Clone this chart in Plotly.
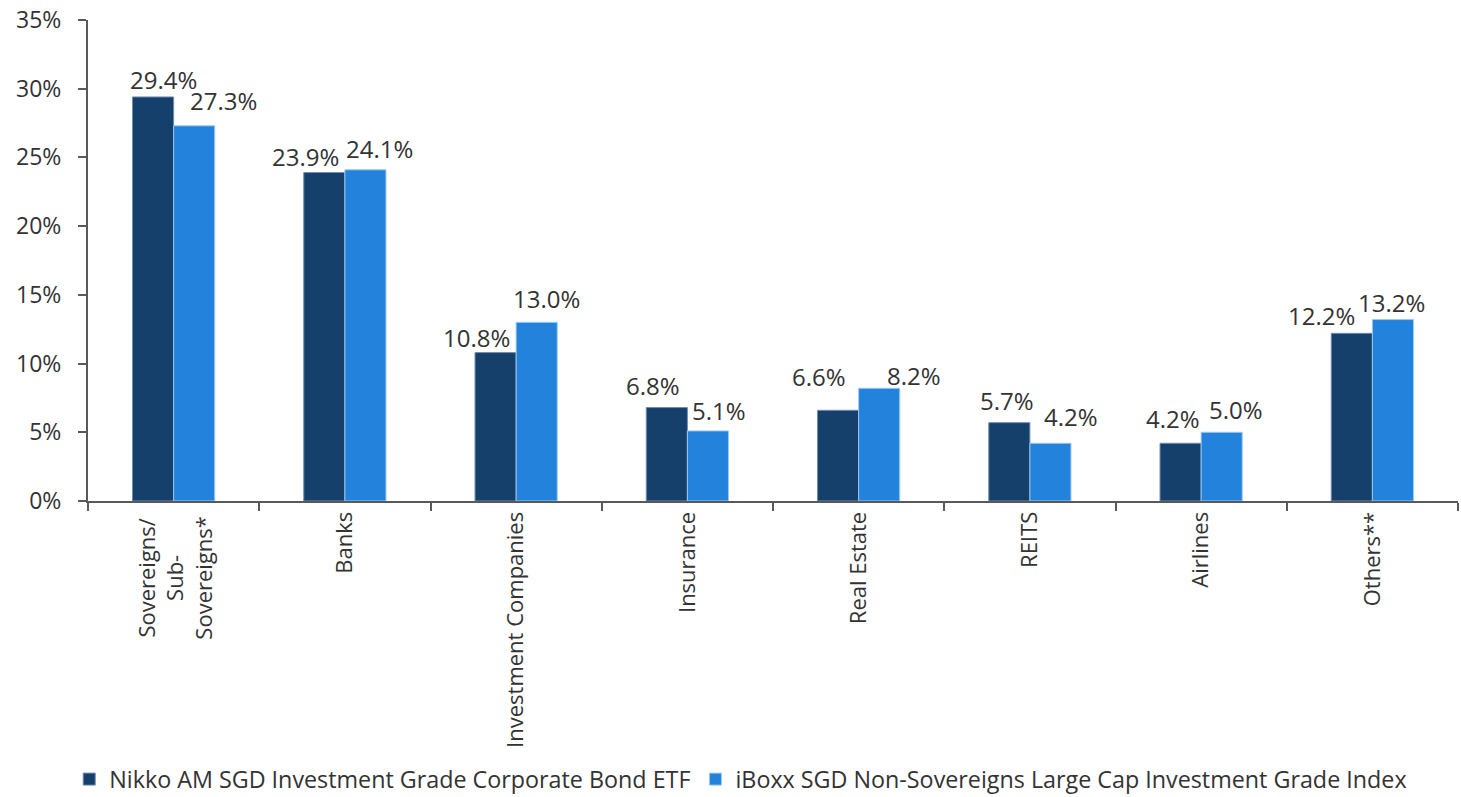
import plotly.graph_objects as go

# Sector allocation data
categories = [
    "Sovereigns/<br>Sub-<br>Sovereigns*",
    "Banks",
    "Investment Companies",
    "Insurance",
    "Real Estate",
    "REITS",
    "Airlines",
    "Others**",
]
fund_name = "Nikko AM SGD Investment Grade Corporate Bond ETF"
index_name = "iBoxx SGD Non-Sovereigns Large Cap Investment Grade Index"
fund_values = [29.4, 23.9, 10.8, 6.8, 6.6, 5.7, 4.2, 12.2]
index_values = [27.3, 24.1, 13.0, 5.1, 8.2, 4.2, 5.0, 13.2]

# Label nudges in pixels (horizontal, vertical gap above bar)
fund_label_dx = [10, -19, -19, -14, -19, -2, -8, -30]
fund_label_gap = [6, 5, 4, 11, 22, 11, 13, 6]
index_label_dx = [29, 14, 10, 11, 35, 21, 14, -1]
index_label_gap = [14, 10, 12, 9, 1, 15, 11, 6]

DARK = "#15406b"
LIGHT = "#2382db"
TEXT = "#333333"
AXIS = "#595959"
FONT = "Open Sans"

fig = go.Figure()
fig.add_trace(go.Bar(
    x=categories, y=fund_values, name=fund_name,
    marker=dict(color=DARK, line=dict(color="#6f8cae", width=1)),
))
fig.add_trace(go.Bar(
    x=categories, y=index_values, name=index_name,
    marker=dict(color=LIGHT, line=dict(color="#9cc9f2", width=1)),
))

bar_half = 20.6
annotations = []
for cat, v, dx, g in zip(categories, fund_values, fund_label_dx, fund_label_gap):
    annotations.append(dict(
        x=cat, y=v, xref="x", yref="y", text=f"{v:.1f}%", showarrow=False,
        xanchor="center", yanchor="bottom", xshift=-bar_half + dx, yshift=g - 7,
        font=dict(family=FONT, size=24, color=TEXT),
    ))
for cat, v, dx, g in zip(categories, index_values, index_label_dx, index_label_gap):
    annotations.append(dict(
        x=cat, y=v, xref="x", yref="y", text=f"{v:.1f}%", showarrow=False,
        xanchor="center", yanchor="bottom", xshift=bar_half + dx, yshift=g - 7,
        font=dict(family=FONT, size=24, color=TEXT),
    ))

# Multi-line category names are drawn as centred rotated annotations;
# single-line names stay as ordinary tick labels.
tick_text = []
for cat in categories:
    if "<br>" in cat:
        tick_text.append("")
        annotations.append(dict(
            x=cat, y=0, xref="x", yref="y", text=cat, showarrow=False,
            textangle=-90, align="center", xanchor="center", yanchor="top",
            yshift=-13, font=dict(family=FONT, size=22, color=TEXT),
        ))
    else:
        tick_text.append(cat)

fig.update_layout(
    width=1461, height=797,
    margin=dict(l=88, r=3, t=17, b=296),
    paper_bgcolor="white", plot_bgcolor="white",
    barmode="group", bargap=0.52, bargroupgap=0,
    font=dict(family=FONT, size=22, color=TEXT),
    annotations=annotations,
    showlegend=True,
    legend=dict(
        orientation="h", xref="container", yref="container",
        x=0.507, xanchor="center", y=0.022, yanchor="middle",
        font=dict(family=FONT, size=23.3, color=TEXT),
        itemwidth=30, tracegroupgap=0,
    ),
    xaxis=dict(
        type="category", tickson="boundaries", ticks="outside", ticklen=8,
        tickvals=categories, ticktext=tick_text,
        tickwidth=2, tickcolor=AXIS, showline=True, linecolor=AXIS, linewidth=2,
        tickangle=-90, showgrid=False, tickfont=dict(family=FONT, size=22, color=TEXT),
    ),
    yaxis=dict(
        range=[0, 35], dtick=5, ticksuffix="%", ticks="outside", ticklen=8,
        tickwidth=2, tickcolor=AXIS, showline=True, linecolor=AXIS, linewidth=2,
        showgrid=False, zeroline=False, tickfont=dict(family=FONT, size=23, color=TEXT),
        ticklabelstandoff=12,
    ),
)

fig.write_html("out.html")
